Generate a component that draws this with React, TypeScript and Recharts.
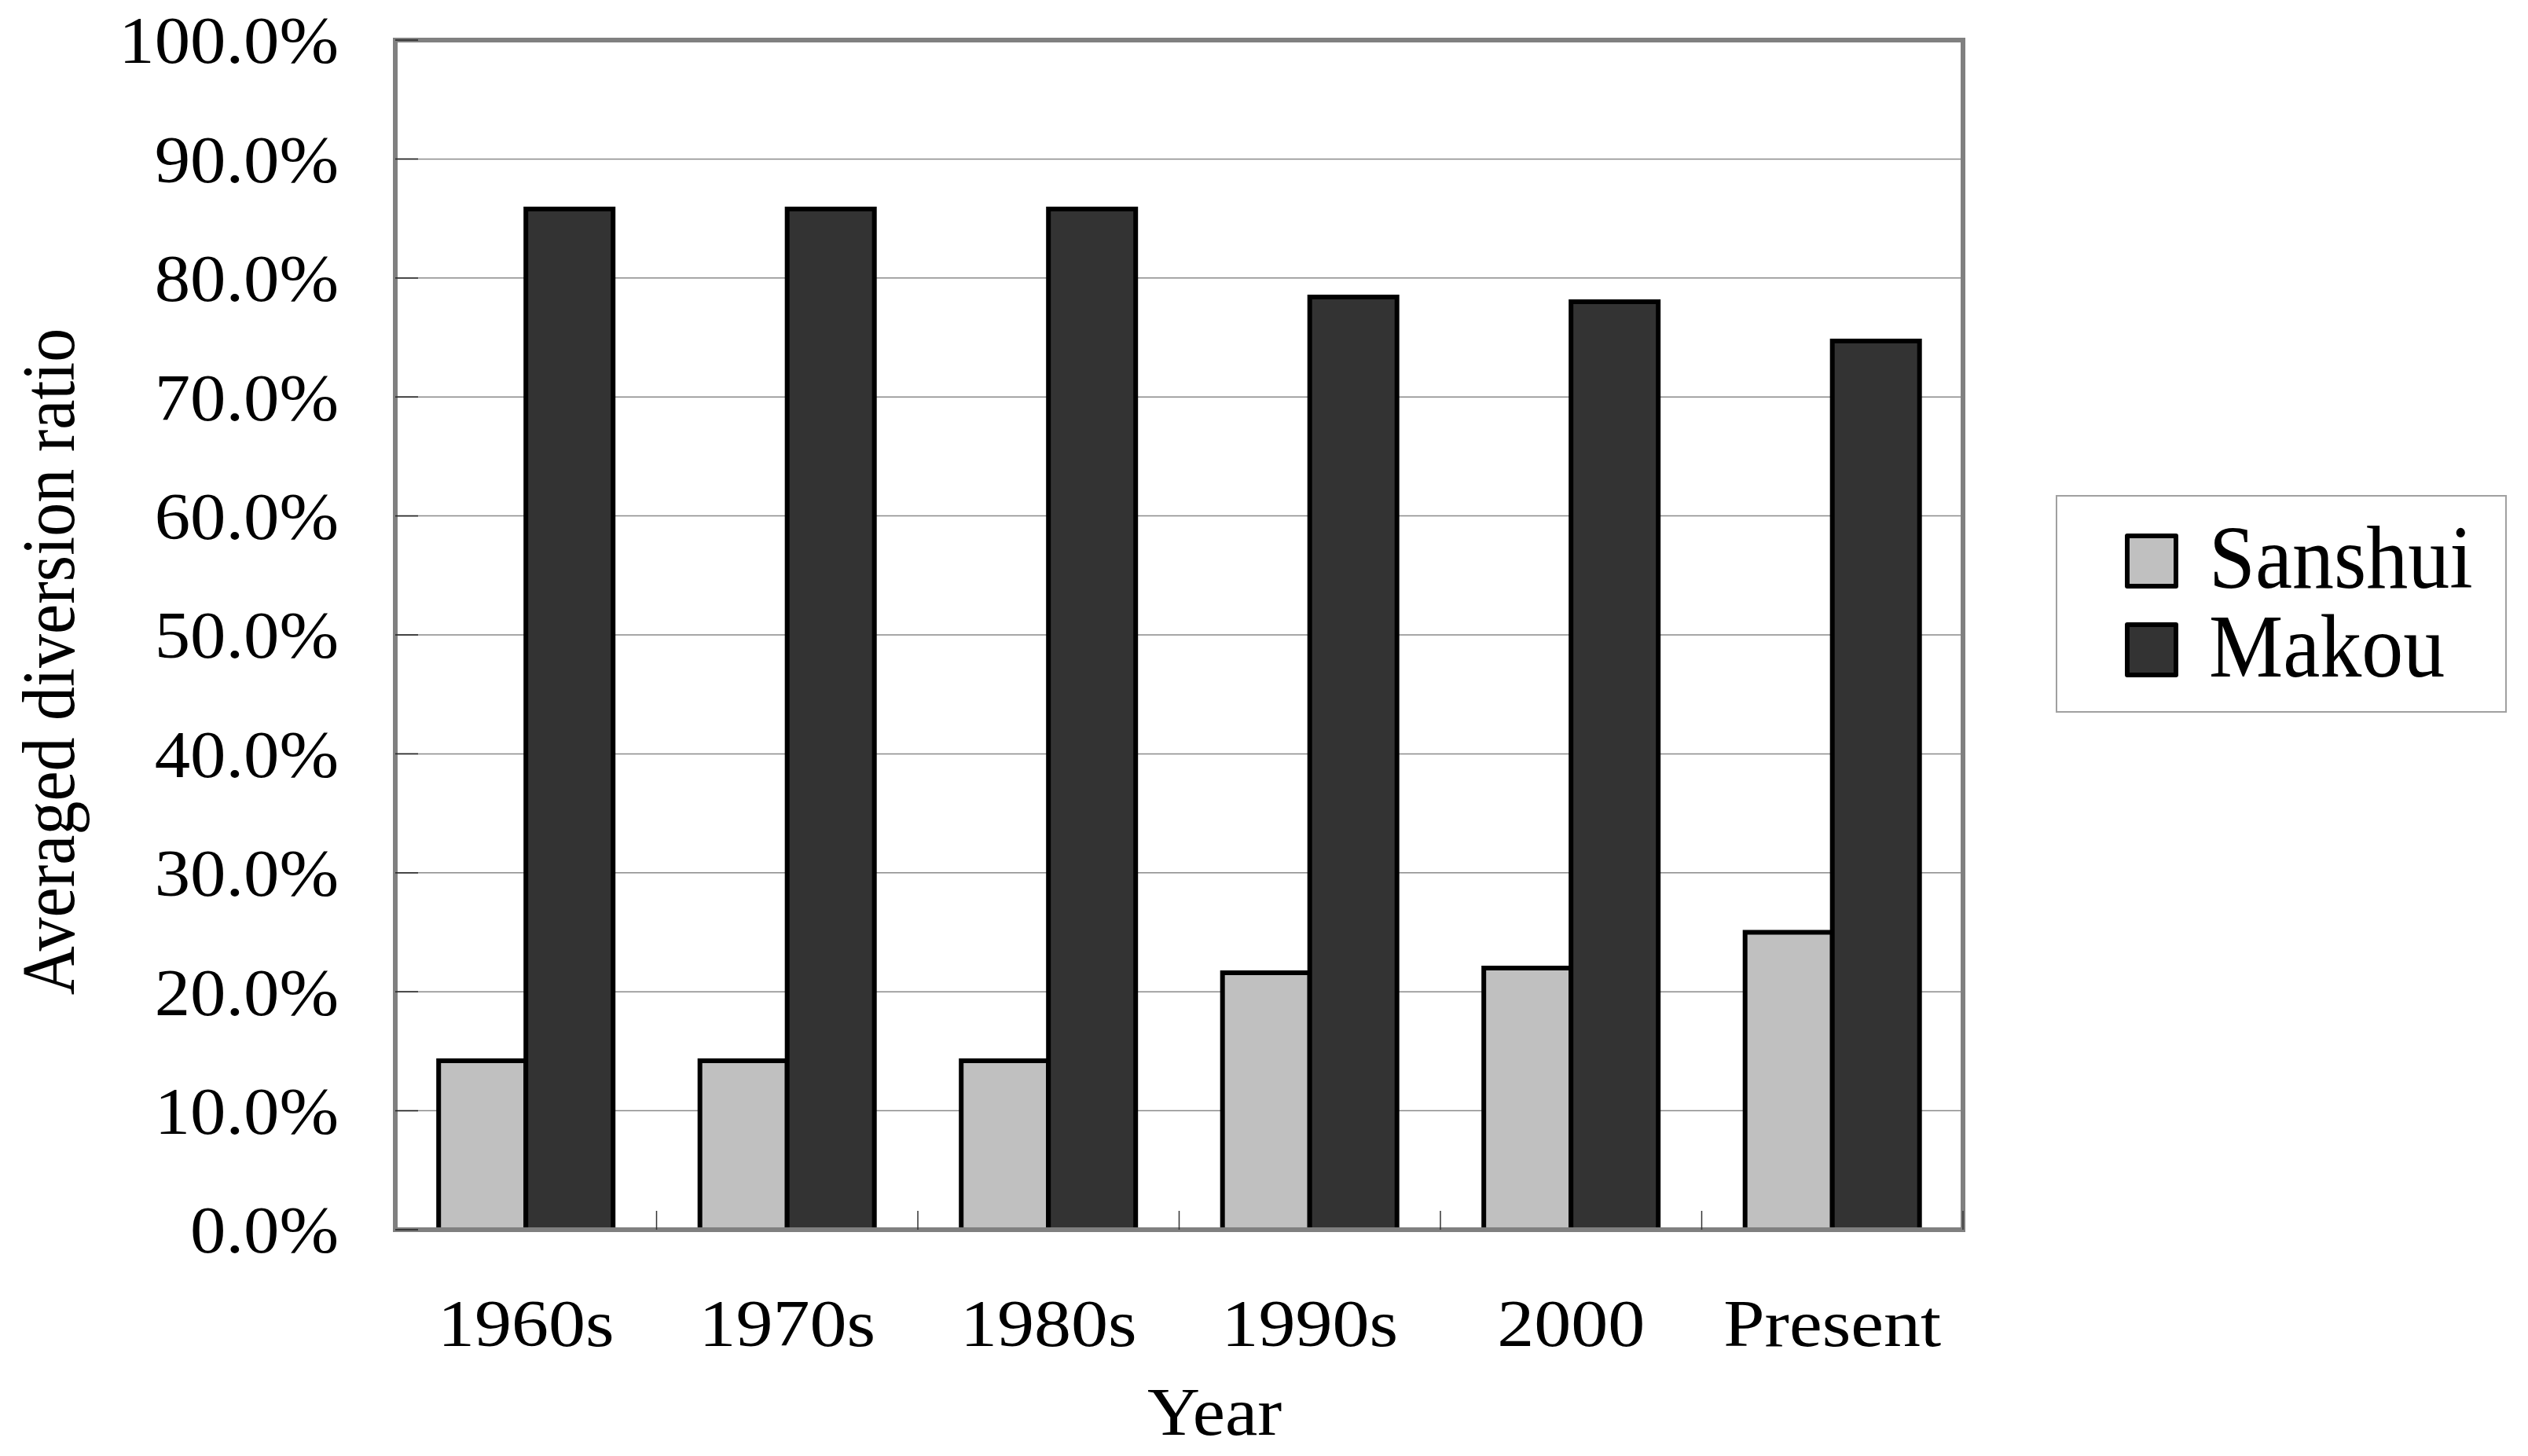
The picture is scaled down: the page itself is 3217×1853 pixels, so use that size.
import React from 'react';
import { BarChart, Bar, XAxis, YAxis, CartesianGrid, Legend, Label, ReferenceArea } from 'recharts';

// ---- data ----
const years = ['1960s', '1970s', '1980s', '1990s', '2000', 'Present'];
const sanshui = [14.2, 14.2, 14.2, 21.6, 22.0, 25.0];
const makou = [85.8, 85.8, 85.8, 78.4, 78.0, 74.7];
const yTicks = [0, 10, 20, 30, 40, 50, 60, 70, 80, 90, 100];
const seriesNames = ['Sanshui', 'Makou'];
const seriesColors = ['#C0C0C0', '#333333'];
const xTitle = 'Year';
const yTitle = 'Averaged diversion ratio';

const data = years.map((y, i) => ({ year: y, Sanshui: sanshui[i], Makou: makou[i] }));

// ---- layout ----
const W = 3217;
const H = 1853;
const MARGIN = { top: 51, right: 719, left: 0, bottom: 0 };
const Y_AXIS_W = 503;
const X_AXIS_H = 288;
const PLOT_W = W - MARGIN.right - Y_AXIS_W;
const BAND = PLOT_W / years.length;
const FONT = '"Liberation Serif", "Times New Roman", serif';
const BORDER = '#808080';

const fmt = (v: number) => `${v.toFixed(1)}%`;

const YTick = (props: any) => {
  const { x, y, payload } = props;
  return (
    <g>
      <line x1={x + 72} x2={x + 101} y1={y} y2={y} stroke="#222" strokeWidth={1.5} />
      <text
        transform={`translate(${x},${y}) scale(1.08,1)`}
        textAnchor="end"
        dy="0.35em"
        fontSize={84}
        fontFamily={FONT}
        fill="#000"
      >
        {fmt(payload.value)}
      </text>
    </g>
  );
};

const XTick = (props: any) => {
  const { x, y, payload } = props;
  return (
    <g>
      <line x1={x + BAND / 2} x2={x + BAND / 2} y1={y - 24} y2={y} stroke="#333" strokeWidth={1.5} />
      <text
        transform={`translate(${x},${y + 148}) scale(1.12,1)`}
        textAnchor="middle"
        fontSize={84}
        fontFamily={FONT}
        fill="#000"
      >
        {payload.value}
      </text>
    </g>
  );
};

const XTitle = (props: any) => {
  const vb = props.viewBox || { x: 0, y: 0, width: 0, height: 0 };
  const cx = vb.x + vb.width / 2 + 45;
  return (
    <text
      transform={`translate(${cx},${vb.y + 261}) scale(1.08,1)`}
      textAnchor="middle"
      fontSize={86}
      fontFamily={FONT}
      fill="#000"
    >
      {xTitle}
    </text>
  );
};

const YTitle = (props: any) => {
  const vb = props.viewBox || { x: 0, y: 0, width: 0, height: 0 };
  const cx = vb.x + 94;
  const cy = vb.y + vb.height / 2 + 34;
  return (
    <text
      transform={`translate(${cx},${cy}) rotate(-90) scale(1,1.12)`}
      textAnchor="middle"
      fontSize={86}
      fontFamily={FONT}
      fill="#000"
    >
      {yTitle}
    </text>
  );
};

const LegendBox = (props: any) => {
  const payload = [...(props.payload || [])].sort(
    (a: any, b: any) => seriesNames.indexOf(a.value) - seriesNames.indexOf(b.value)
  );
  return (
    <div
      style={{
        width: 574,
        height: 277,
        border: '2px solid #a0a0a0',
        boxSizing: 'border-box',
        background: '#fff',
        paddingTop: 47,
        fontFamily: FONT,
      }}
    >
      {payload.map((e: any, i: number) => {
        const idx = seriesNames.indexOf(e.value);
        const color = idx >= 0 ? seriesColors[idx] : e.color;
        return (
          <div
            key={e.value}
            style={{
              display: 'flex',
              alignItems: 'flex-start',
              height: 70,
              marginBottom: i === 0 ? 43 : 0,
              marginLeft: 86,
            }}
          >
            <div
              style={{
                width: 68,
                height: 70,
                boxSizing: 'border-box',
                border: '6px solid #000',
                borderRadius: 3,
                background: color,
                flex: 'none',
              }}
            />
            <span
              style={{
                marginLeft: 39,
                fontSize: 106,
                lineHeight: '70px',
                height: 70,
                display: 'inline-block',
                transform: 'translateY(-4px) scaleY(1.08)',
                color: '#000',
                whiteSpace: 'nowrap',
              }}
            >
              {e.value}
            </span>
          </div>
        );
      })}
    </div>
  );
};

export default function App() {
  return (
    <div style={{ position: 'absolute', left: 0, top: 0, width: W, height: H, background: '#fff' }}>
      <BarChart
        width={W}
        height={H}
        data={data}
        margin={MARGIN}
        barCategoryGap="16.6%"
        barGap={0}
        style={{ fontFamily: FONT }}
      >
        <CartesianGrid vertical={false} stroke="#8a8a8a" strokeWidth={1.5} />
        <ReferenceArea y1={0} y2={100} fill="none" fillOpacity={0} stroke={BORDER} strokeWidth={6} ifOverflow="extendDomain" />
        <XAxis
          dataKey="year"
          height={X_AXIS_H}
          interval={0}
          tickSize={0}
          tickMargin={0}
          tickLine={false}
          tick={<XTick />}
          axisLine={{ stroke: BORDER, strokeWidth: 6 }}
        >
          <Label content={<XTitle />} />
        </XAxis>
        <YAxis
          width={Y_AXIS_W}
          domain={[0, 100]}
          ticks={yTicks}
          interval={0}
          tickSize={0}
          tickMargin={72}
          tickLine={false}
          tick={<YTick />}
          axisLine={{ stroke: BORDER, strokeWidth: 6 }}
        >
          <Label content={<YTitle />} />
        </YAxis>
        <Legend
          layout="vertical"
          align="center"
          verticalAlign="middle"
          content={<LegendBox />}
          wrapperStyle={{ left: 2616, top: 630, width: 574, height: 277 }}
        />
        <Bar dataKey="Sanshui" name="Sanshui" fill={seriesColors[0]} stroke="#000" strokeWidth={6} isAnimationActive={false} />
        <Bar dataKey="Makou" name="Makou" fill={seriesColors[1]} stroke="#000" strokeWidth={6} isAnimationActive={false} />
      </BarChart>
    </div>
  );
}
